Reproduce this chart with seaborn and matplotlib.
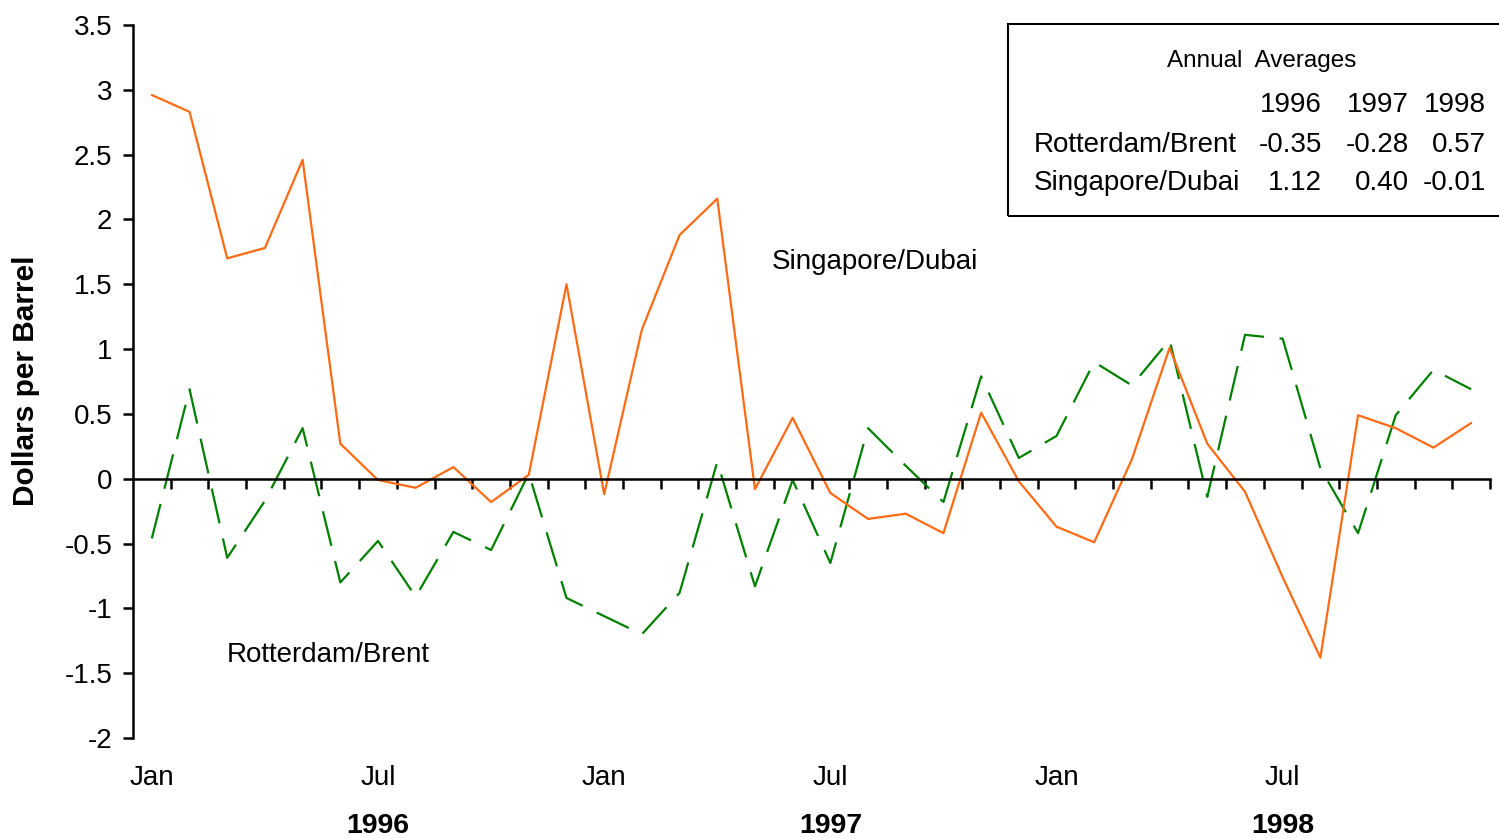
import matplotlib
matplotlib.use("Agg")
import numpy as np
import pandas as pd
import seaborn as sns
import matplotlib.pyplot as plt
from matplotlib import transforms
from matplotlib.patches import Rectangle

# Monthly spreads, Jan 1996 .. Dec 1998 (dollars per barrel)
years = [1996, 1997, 1998]
month_marks = {0: "Jan", 6: "Jul"}
rotterdam_brent = [
    -0.46, 0.69, -0.61, -0.17, 0.39, -0.80, -0.48, -0.91, -0.41, -0.55, 0.04, -0.92,
    -1.06, -1.20, -0.88, 0.13, -0.83, -0.01, -0.65, 0.39, 0.10, -0.18, 0.79, 0.16,
    0.33, 0.90, 0.72, 1.07, -0.14, 1.11, 1.08, 0.08, -0.42, 0.49, 0.84, 0.69,
]
singapore_dubai = [
    2.96, 2.83, 1.70, 1.78, 2.46, 0.27, -0.01, -0.07, 0.09, -0.18, 0.03, 1.50,
    -0.12, 1.15, 1.88, 2.16, -0.08, 0.47, -0.11, -0.31, -0.27, -0.42, 0.51, -0.02,
    -0.37, -0.49, 0.15, 1.01, 0.27, -0.10, -0.76, -1.38, 0.49, 0.39, 0.24, 0.43,
]
# annual averages shown in the box
avg_rotterdam = ["-0.35", "-0.28", "0.57"]
avg_singapore = ["1.12", "0.40", "-0.01"]

n = len(rotterdam_brent)
df = pd.DataFrame({
    "month": list(range(n)) * 2,
    "value": rotterdam_brent + singapore_dubai,
    "series": ["Rotterdam/Brent"] * n + ["Singapore/Dubai"] * n,
})

sns.set_style("ticks")
plt.rcParams["font.family"] = ["Liberation Sans", "DejaVu Sans"]
plt.rcParams["text.color"] = "black"
plt.rcParams["xtick.color"] = "black"
plt.rcParams["ytick.color"] = "black"
plt.rcParams["axes.labelcolor"] = "black"

FS = 20
W, H = 1499, 838
fig = plt.figure(figsize=(W / 100, H / 100), dpi=100)
ax = fig.add_axes([133 / W, 1 - 738 / H, (1490 - 133) / W, (738 - 25) / H])

sns.lineplot(
    data=df, x="month", y="value", hue="series", style="series",
    palette={"Rotterdam/Brent": "#008000", "Singapore/Dubai": "#ff6a13"},
    dashes={"Rotterdam/Brent": (16, 7), "Singapore/Dubai": ""},
    linewidth=1.6, legend=False, ax=ax,
)

ax.set_xlim(-0.5, n - 0.5)
ax.set_ylim(-2, 3.5)
yt = np.arange(-2, 3.51, 0.5)
ax.set_yticks(yt)
ax.set_yticklabels([f"{v:g}" for v in yt], fontsize=FS)
ax.tick_params(axis="y", direction="out", length=7, width=1.8, pad=8, colors="black")

# x axis sits on zero, ticks between months
ax.spines["bottom"].set_position(("data", 0))
ax.spines["top"].set_visible(False)
ax.spines["right"].set_visible(False)
for s in ["bottom", "left"]:
    ax.spines[s].set_linewidth(1.8)
    ax.spines[s].set_color("black")
ax.set_xticks(np.arange(0.5, n, 1.0))
ax.tick_params(axis="x", direction="out", length=7, width=1.8, labelbottom=False)
ax.set_xlabel("")
ax.set_ylabel("")

# month and year labels below the plot
tr = transforms.blended_transform_factory(ax.transData, fig.transFigure)
for k in range(len(years)):
    for off, name in month_marks.items():
        ax.text(12 * k + off, 1 - 778 / H, name, transform=tr, ha="center",
                va="center", fontsize=FS)
    ax.text(12 * k + 6, 1 - 826 / H, str(years[k]), transform=tr, ha="center",
            va="center", fontsize=20.5, fontweight="bold")

fig.text(26 / W, 1 - 381 / H, "Dollars per Barrel", rotation=90, ha="center",
         va="center", fontsize=21.5, fontweight="bold")

# series labels
ax.text(16.45, 1.67, "Singapore/Dubai", fontsize=FS, ha="left", va="center")
ax.text(2.0, -1.36, "Rotterdam/Brent", fontsize=FS, ha="left", va="center")

# annual averages box
fig.patches.append(Rectangle((1008 / W, 1 - 216 / H), (1520 - 1008) / W, (216 - 24) / H,
                             transform=fig.transFigure, fill=False, lw=1.5,
                             ec="black", clip_on=False))
fig.text(1262 / W, 1 - 61 / H, "Annual  Averages", ha="center", va="center", fontsize=17.5)
col_right = [1322, 1409, 1486]
for j in range(len(years)):
    fig.text(col_right[j] / W, 1 - 105 / H, str(years[j]), ha="right", va="center", fontsize=FS)
    fig.text(col_right[j] / W, 1 - 145 / H, avg_rotterdam[j], ha="right", va="center", fontsize=FS)
    fig.text(col_right[j] / W, 1 - 183 / H, avg_singapore[j], ha="right", va="center", fontsize=FS)
fig.text(1034 / W, 1 - 145 / H, "Rotterdam/Brent", ha="left", va="center", fontsize=FS)
fig.text(1034 / W, 1 - 183 / H, "Singapore/Dubai", ha="left", va="center", fontsize=FS)

fig.savefig("out.png", dpi=100, facecolor="white")
